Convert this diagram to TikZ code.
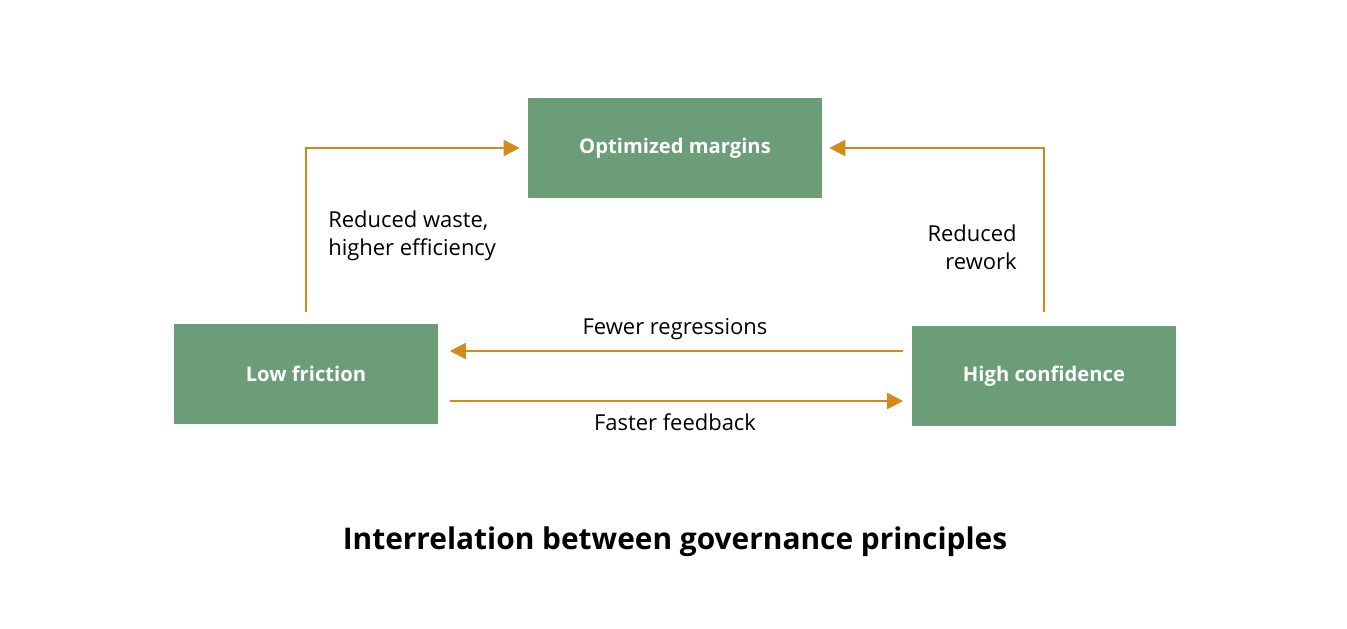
\documentclass[tikz,border=0pt]{standalone}
\usepackage{fontspec}
\setmainfont{Open Sans}
\usetikzlibrary{arrows.meta,positioning}
\definecolor{boxgreen}{HTML}{6A9D78}
\definecolor{flow}{HTML}{D4891A}
\begin{document}
\begin{tikzpicture}[x=0.02cm,y=-0.02cm,
    box/.style = {fill = boxgreen, text = white, font = \bfseries\fontsize{11.5}{14}\selectfont,
                  minimum width = 5.3cm, minimum height = 2cm, inner sep = 0pt},
    link/.style = {draw = flow, line width = 1pt, -{Triangle[length = 0.32cm, width = 0.32cm]}},
    lbl/.style = {font = \fontsize{12.5}{16}\selectfont, inner sep = 0pt}]
  \useasboundingbox (0,0) rectangle (1347,629);

  \node[box, minimum width = 5.88cm] (om) at (675,148) {Optimized margins};
  \node[box] (lf) at (306,374) {Low friction};
  \node[box] (hc) at (1044,376) {High confidence};

  % up to the margins
  \draw[link, shorten <= 0.24cm, shorten >= 0.16cm] (lf.north) |- (om.west);
  \draw[link, shorten <= 0.28cm, shorten >= 0.14cm] (hc.north) |- (om.east);

  % between the two lower boxes
  \draw[link, shorten <= 0.16cm, shorten >= 0.22cm] ([yshift = 0.5cm]hc.west) -- ([yshift = 0.46cm]lf.east);
  \draw[link, shorten <= 0.22cm, shorten >= 0.16cm] ([yshift = -0.54cm]lf.east) -- ([yshift = -0.5cm]hc.west);

  \node[lbl, anchor = west, align = left] (waste) at (328,236) {Reduced waste,\\higher efficiency};
  \node[lbl, anchor = east, align = right] (rework) at (1017,247) {Reduced\\rework};
  \node[lbl] (regr) at (675,329) {Fewer regressions};
  \node[lbl] (feed) at (675,422) {Faster feedback};

  \node[font = \bfseries\fontsize{17}{20}\selectfont] (title) at (675,542) {Interrelation between governance principles};
\end{tikzpicture}
\end{document}
